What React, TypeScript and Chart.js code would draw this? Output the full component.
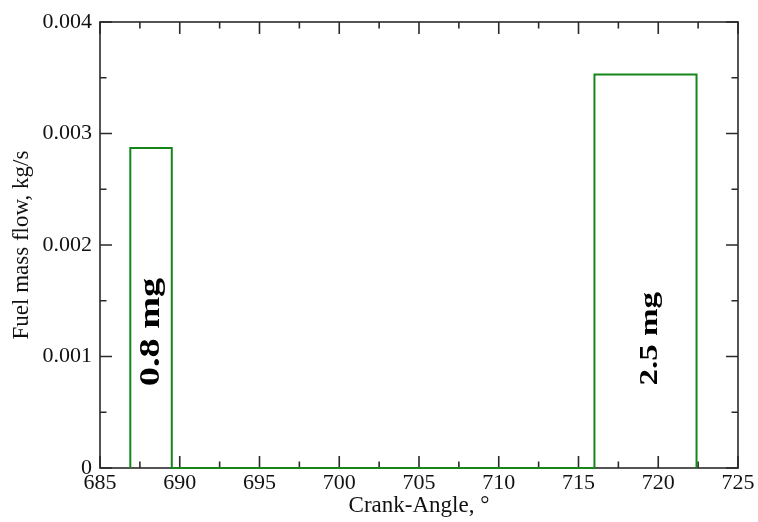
import React, { useEffect, useRef } from "react";
import { Chart, registerables } from "chart.js";

Chart.register(...registerables);

// Crank angle (deg) of each corner of the injection profile
const crankAngle = [686.9, 686.9, 689.5, 689.5, 716.0, 716.0, 722.4, 722.4];
// Fuel mass flow (kg/s)
const fuelFlow = [0, 0.00287, 0.00287, 0, 0, 0.00353, 0.00353, 0];

const xMajorTicks = [685, 690, 695, 700, 705, 710, 715, 720, 725];
const xMinorTicks = [687.5, 692.5, 697.5, 702.5, 707.5, 712.5, 717.5, 722.5];
const yMajorTicks = [0, 0.001, 0.002, 0.003, 0.004];
const yMinorTicks = [0.0005, 0.0015, 0.0025, 0.0035];

const annotationTexts = ["0.8 mg", "2.5 mg"];
const annotationX = [688.2, 719.5];
const annotationY = [0.00122, 0.00116];
const annotationSizes = [29, 25];

const FONT = "'Liberation Serif', 'DejaVu Serif', serif";

export default function App() {
  const ref = useRef<HTMLCanvasElement | null>(null);

  useEffect(() => {
    if (!ref.current) return;
    const framePlugin = {
      id: "framePlugin",
      beforeDatasetsDraw(chart: any) {
        const { ctx, chartArea } = chart;
        const xs = chart.scales.x;
        const ys = chart.scales.y;
        const { left, right, top, bottom } = chartArea;
        ctx.save();
        ctx.strokeStyle = "#2a2a2a";
        ctx.lineWidth = 1.6;
        ctx.strokeRect(left, top, right - left, bottom - top);
        const major = 12;
        const minor = 6.5;
        ctx.beginPath();
        const xt = (v: number, len: number) => {
          const px = xs.getPixelForValue(v);
          ctx.moveTo(px, bottom);
          ctx.lineTo(px, bottom - len);
          ctx.moveTo(px, top);
          ctx.lineTo(px, top + len);
        };
        const yt = (v: number, len: number) => {
          const py = ys.getPixelForValue(v);
          ctx.moveTo(left, py);
          ctx.lineTo(left + len, py);
          ctx.moveTo(right, py);
          ctx.lineTo(right - len, py);
        };
        xMajorTicks.forEach((v) => xt(v, major));
        xMinorTicks.forEach((v) => xt(v, minor));
        yMajorTicks.forEach((v) => yt(v, major));
        yMinorTicks.forEach((v) => yt(v, minor));
        ctx.stroke();
        ctx.restore();
      },
      afterDatasetsDraw(chart: any) {
        const { ctx } = chart;
        const xs = chart.scales.x;
        const ys = chart.scales.y;
        ctx.save();
        ctx.fillStyle = "#000";
        annotationTexts.forEach((t, i) => {
          const px = xs.getPixelForValue(annotationX[i]);
          const py = ys.getPixelForValue(annotationY[i]);
          ctx.save();
          ctx.translate(px, py);
          ctx.rotate(-Math.PI / 2);
          ctx.scale(1.32, 1);
          ctx.font = `bold ${annotationSizes[i]}px ${FONT}`;
          ctx.textAlign = "center";
          ctx.textBaseline = "middle";
          ctx.fillText(t, 0, 0);
          ctx.restore();
        });
        ctx.restore();
      },
    };

    const chart = new Chart(ref.current, {
      type: "line",
      data: {
        datasets: [
          {
            data: crankAngle.map((x, i) => ({ x, y: fuelFlow[i] })),
            borderColor: "#16861a",
            borderWidth: 2,
            pointRadius: 0,
            fill: false,
            tension: 0,
            clip: false as any,
          },
        ],
      },
      options: {
        responsive: false,
        animation: false,
        layout: { padding: { top: 22, right: 20, left: 0, bottom: 0 } },
        plugins: {
          legend: { display: false },
          tooltip: { enabled: false },
        },
        scales: {
          x: {
            type: "linear",
            min: 685,
            max: 725,
            border: { display: false },
            grid: { display: false, drawTicks: false, tickLength: 0 },
            afterBuildTicks: (scale: any) => {
              scale.ticks = xMajorTicks.map((v) => ({ value: v }));
            },
            ticks: {
              autoSkip: false,
              maxRotation: 0,
              padding: 2,
              color: "#111",
              font: { family: FONT, size: 22 },
              callback: (v: any) => String(v),
            },
            title: {
              display: true,
              text: "Crank-Angle, °",
              color: "#111",
              font: { family: FONT, size: 23 },
              padding: { top: 0, bottom: 2 },
            },
            afterFit: (scale: any) => {
              scale.height = 54;
            },
          },
          y: {
            type: "linear",
            min: 0,
            max: 0.004,
            border: { display: false },
            grid: { display: false, drawTicks: false, tickLength: 0 },
            afterBuildTicks: (scale: any) => {
              scale.ticks = yMajorTicks.map((v) => ({ value: v }));
            },
            ticks: {
              autoSkip: false,
              padding: 8,
              color: "#111",
              font: { family: FONT, size: 22 },
              callback: (v: any) => (v === 0 ? "0" : Number(v).toFixed(3)),
            },
            title: {
              display: true,
              text: "Fuel mass flow, kg/s",
              color: "#111",
              font: { family: FONT, size: 23 },
              padding: { top: 8, bottom: 0 },
            },
            afterFit: (scale: any) => {
              scale.width = 100;
            },
          },
        },
      },
      plugins: [framePlugin],
    });
    return () => chart.destroy();
  }, []);

  return (
    <div style={{ position: "fixed", left: 0, top: 0, width: 758, height: 522, background: "#fff" }}>
      <canvas ref={ref} width={758} height={522} style={{ display: "block" }} />
    </div>
  );
}
